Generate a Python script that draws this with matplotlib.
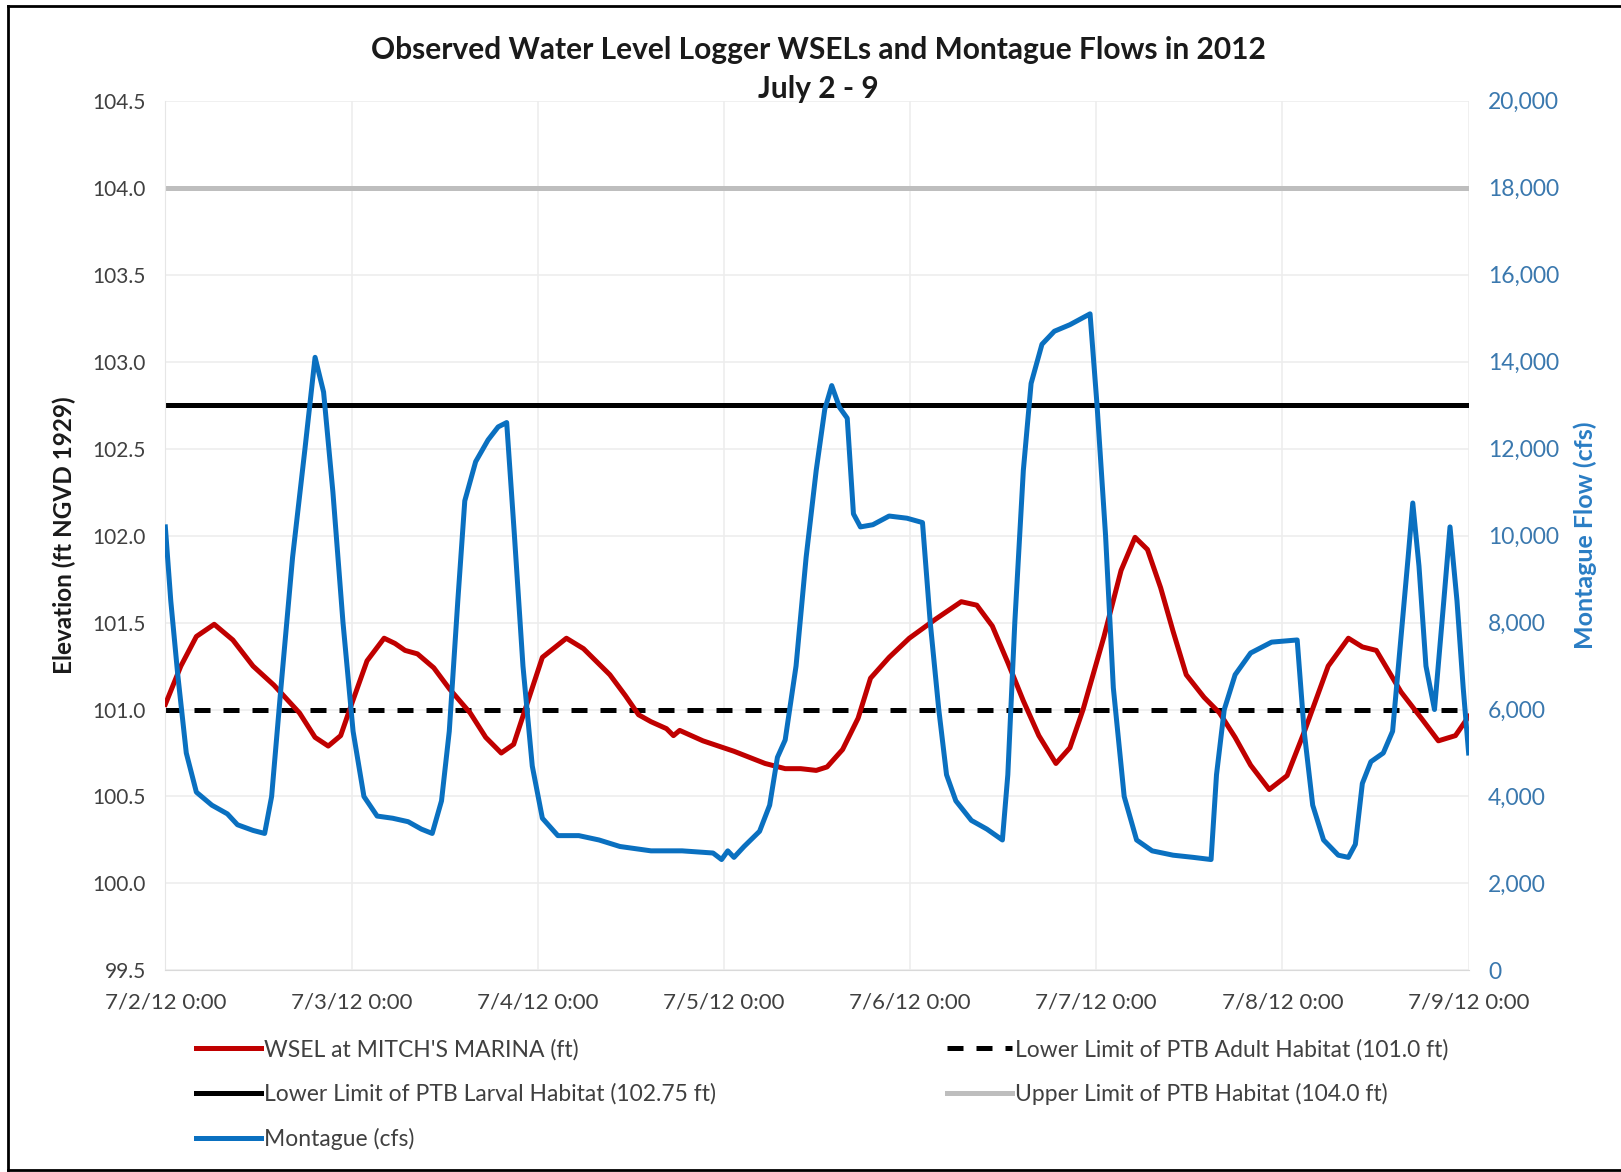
import matplotlib
matplotlib.use("Agg")
import matplotlib.pyplot as plt
from matplotlib.lines import Line2D
import numpy as np

plt.rcParams['font.family'] = ['Lato', 'DejaVu Sans']

# ---- data ----
# time in hours since 7/2/12 0:00
wsel_hours = [0.0, 2.0, 4.0, 6.3, 8.7, 11.3, 14.0, 17.3, 19.3, 21.0, 22.6, 24.0, 26.0, 28.2,
              29.6, 30.9, 32.5, 34.6, 36.6, 39.3, 41.3, 43.3, 44.9, 46.6, 48.6, 51.7, 53.9,
              57.3, 59.3, 61.0, 62.6, 64.6, 65.5, 66.3, 69.3, 73.3, 77.3, 79.9, 81.9, 83.9,
              85.3, 87.3, 89.3, 90.9, 93.3, 95.9, 99.3, 102.6, 104.6, 106.6, 108.6, 110.6,
              112.6, 114.8, 116.6, 118.3, 121.0, 123.2, 125.0, 126.6, 128.3, 129.9, 131.6,
              133.9, 135.9, 137.9, 139.9, 142.3, 144.6, 146.8, 149.9, 152.5, 154.3, 156.1,
              159.3, 161.9, 164.1, 166.3, 168.0]
wsel_ft = [101.03, 101.25, 101.42, 101.49, 101.40, 101.25, 101.14, 100.98, 100.84, 100.79,
           100.85, 101.03, 101.28, 101.41, 101.38, 101.34, 101.32, 101.24, 101.12, 100.98,
           100.84, 100.75, 100.80, 101.03, 101.30, 101.41, 101.35, 101.20, 101.08, 100.97,
           100.93, 100.89, 100.85, 100.88, 100.82, 100.76, 100.69, 100.66, 100.66, 100.65,
           100.67, 100.77, 100.95, 101.18, 101.30, 101.41, 101.52, 101.62, 101.60, 101.48,
           101.27, 101.05, 100.85, 100.69, 100.78, 101.00, 101.42, 101.80, 101.99, 101.92,
           101.70, 101.45, 101.20, 101.07, 100.98, 100.84, 100.68, 100.54, 100.62, 100.87,
           101.25, 101.41, 101.36, 101.34, 101.10, 100.95, 100.82, 100.85, 100.96]

flow_hours = [0.0, 0.7, 1.6, 2.7, 4.0, 6.0, 8.0, 9.3, 11.3, 12.8, 13.7, 14.9, 16.4, 18.0,
              19.3, 20.4, 21.6, 22.9, 24.2, 25.6, 27.3, 29.3, 31.3, 33.0, 34.4, 35.6, 36.6,
              37.7, 38.6, 40.0, 41.6, 42.9, 44.0, 45.0, 46.1, 47.3, 48.6, 50.6, 53.3, 55.9,
              58.6, 62.6, 66.6, 70.6, 71.7, 72.5, 73.3, 74.6, 76.6, 77.9, 78.9, 79.9, 81.3,
              82.6, 83.9, 85.0, 85.9, 86.9, 87.9, 88.7, 89.6, 91.2, 93.3, 95.6, 97.6, 98.6,
              99.7, 100.7, 101.9, 103.9, 105.9, 107.9, 108.6, 109.5, 110.6, 111.6, 113.0,
              114.6, 116.6, 119.2, 120.1, 121.2, 122.2, 123.6, 125.2, 127.2, 129.9, 132.5,
              134.8, 135.5, 136.5, 137.9, 139.9, 142.6, 145.9, 146.8, 147.9, 149.3, 151.2,
              152.5, 153.4, 154.3, 155.4, 157.0, 158.2, 159.2, 160.2, 160.8, 161.6, 162.5,
              163.6, 164.8, 165.6, 166.5, 167.3, 168.0]
flow_cfs = [10200, 8500, 6800, 5000, 4100, 3800, 3600, 3350, 3220, 3150, 4000, 6500, 9500,
            12000, 14100, 13300, 11000, 8000, 5500, 4000, 3550, 3500, 3420, 3250, 3150, 3900,
            5500, 8500, 10800, 11700, 12200, 12500, 12600, 10000, 7000, 4700, 3500, 3100,
            3100, 3000, 2850, 2750, 2750, 2700, 2550, 2750, 2600, 2850, 3200, 3800, 4900,
            5300, 7000, 9500, 11500, 12900, 13450, 12950, 12700, 10500, 10200, 10250, 10450,
            10400, 10300, 8000, 6000, 4500, 3900, 3450, 3250, 3000, 4500, 8000, 11500, 13500,
            14400, 14700, 14850, 15100, 13000, 10000, 6500, 4000, 3000, 2750, 2650, 2600,
            2550, 4500, 6000, 6800, 7300, 7550, 7600, 5500, 3800, 3000, 2650, 2600, 2900,
            4300, 4800, 5000, 5500, 7500, 9500, 10750, 9300, 7000, 6000, 8500, 10200, 8500,
            6500, 5000]

larval_limit = 102.75
adult_limit = 101.0
upper_limit = 104.0

x_tick_labels = ["7/2/12 0:00", "7/3/12 0:00", "7/4/12 0:00", "7/5/12 0:00",
                 "7/6/12 0:00", "7/7/12 0:00", "7/8/12 0:00", "7/9/12 0:00"]
left_ticks = [99.5, 100.0, 100.5, 101.0, 101.5, 102.0, 102.5, 103.0, 103.5, 104.0, 104.5]
right_ticks = [0, 2000, 4000, 6000, 8000, 10000, 12000, 14000, 16000, 18000, 20000]

# ---- colors ----
RED = "#C00000"
BLUE = "#0A70C0"
BLUE_TICK = "#3A78AE"
BLUE_LBL = "#2A7DC4"
GRAY_TXT = "#404040"

fig = plt.figure(figsize=(16.21, 11.72), dpi=100)
ax1 = fig.add_axes([0.102, 0.172, 0.804, 0.742])
ax2 = ax1.twinx()

wsel_days = np.array(wsel_hours) / 24.0
flow_days = np.array(flow_hours) / 24.0

ax1.plot(wsel_days, wsel_ft, color=RED, lw=3.6, zorder=3,
         label="WSEL at MITCH'S MARINA (ft)")
ax1.axhline(larval_limit, color="black", lw=3.6, zorder=2,
            label="Lower Limit of PTB Larval Habitat (102.75 ft)")
ax1.axhline(adult_limit, color="black", lw=3.6, ls=(0, (3.2, 2.6)), zorder=2,
            label="Lower Limit of PTB Adult Habitat (101.0 ft)")
ax1.axhline(upper_limit, color="#BEBEBE", lw=3.6, zorder=2,
            label="Upper Limit of PTB Habitat (104.0 ft)")
ax2.plot(flow_days, flow_cfs, color=BLUE, lw=3.6, zorder=3, label="Montague (cfs)")

ax1.set_xlim(0, 7)
ax1.set_ylim(99.5, 104.5)
ax2.set_ylim(0, 20000)

ax1.set_xticks(range(8))
ax1.set_xticklabels(x_tick_labels, fontsize=16, color=GRAY_TXT)
ax1.set_yticks(left_ticks)
ax1.set_yticklabels([f"{v:.1f}" for v in left_ticks], fontsize=15, color=GRAY_TXT)
ax2.set_yticks(right_ticks)
ax2.set_yticklabels([f"{v:,}" for v in right_ticks], fontsize=16.5, color=BLUE_TICK)

ax1.tick_params(axis='y', length=0, pad=14)
ax1.tick_params(axis='x', length=0, pad=16)
ax2.tick_params(axis='y', length=0, pad=14)

ax1.grid(True, color="#EDEDED", lw=1.2, zorder=0)
ax1.set_axisbelow(True)

for ax in (ax1, ax2):
    for s in ax.spines.values():
        s.set_visible(False)
ax1.spines['bottom'].set_visible(True)
ax1.spines['bottom'].set_color("#D9D9D9")
ax1.spines['left'].set_visible(True)
ax1.spines['left'].set_color("#E6E6E6")

ax1.set_ylabel("Elevation (ft NGVD 1929)", fontsize=17.5, fontweight='bold',
               color="#1a1a1a", labelpad=12)
ax2.set_ylabel("Montague Flow (cfs)", fontsize=18, fontweight='bold',
               color=BLUE_LBL, labelpad=10)

fig.text(0.505, 0.957, "Observed Water Level Logger WSELs and Montague Flows in 2012",
         ha='center', va='center', fontsize=21.5, fontweight='bold', color="#1a1a1a")
fig.text(0.505, 0.924, "July 2 - 9", ha='center', va='center', fontsize=21.5,
         fontweight='bold', color="#1a1a1a")

h1, l1 = ax1.get_legend_handles_labels()
h2, l2 = ax2.get_legend_handles_labels()
handles = dict(zip(l1 + l2, h1 + h2))
left_labels = ["WSEL at MITCH'S MARINA (ft)",
               "Lower Limit of PTB Larval Habitat (102.75 ft)", "Montague (cfs)"]
right_labels = ["Lower Limit of PTB Adult Habitat (101.0 ft)",
                "Upper Limit of PTB Habitat (104.0 ft)"]
leg_kw = dict(frameon=False, fontsize=16.5, handlelength=2.85, handletextpad=0.12,
              labelspacing=1.0, borderpad=0, labelcolor=GRAY_TXT)
leg1 = fig.legend([handles[l] for l in left_labels], left_labels, loc='upper left',
                  bbox_to_anchor=(0.1138, 0.1233), **leg_kw)
leg2 = fig.legend([handles[l] for l in right_labels], right_labels, loc='upper left',
                  bbox_to_anchor=(0.5771, 0.1233), **leg_kw)

# outer frame
for xs, ys in [((0.005, 0.005), (0.002, 0.995)), ((0.005, 1.0), (0.995, 0.995)),
               ((0.005, 1.0), (0.002, 0.002))]:
    fig.add_artist(Line2D(xs, ys, transform=fig.transFigure, color="black", lw=2))

fig.savefig("out.png", dpi=100)
